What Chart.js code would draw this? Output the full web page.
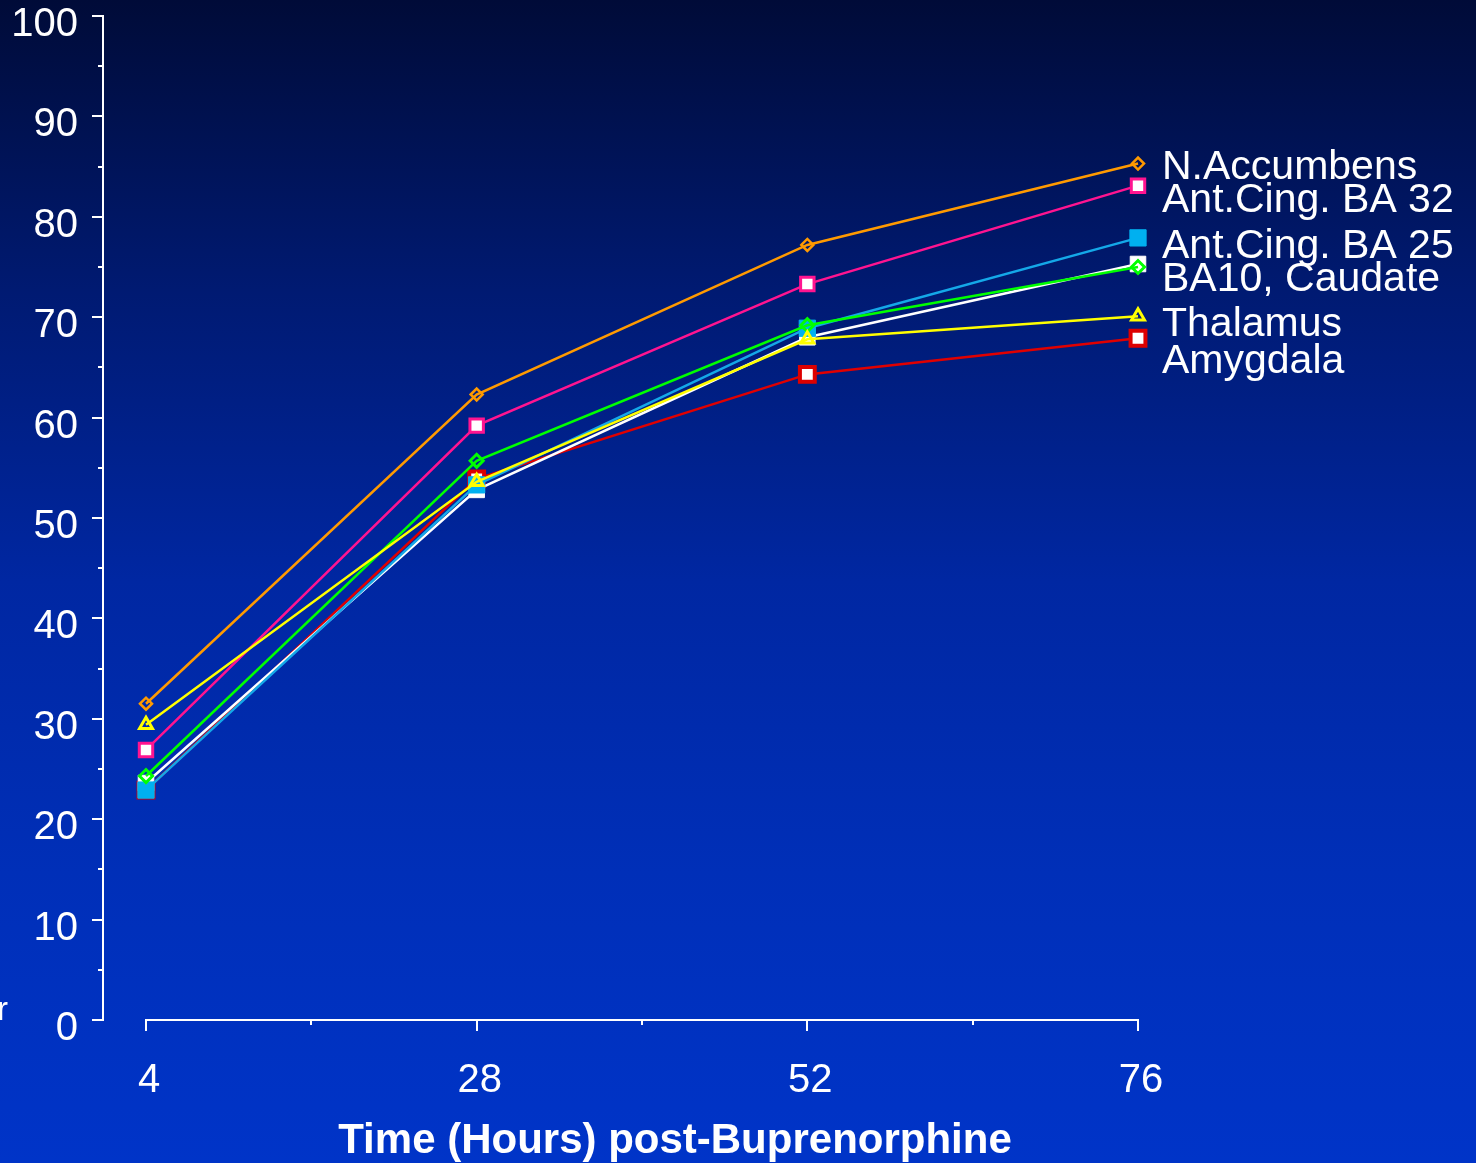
<!DOCTYPE html>
<html>
<head>
<meta charset="utf-8">
<style>
  html, body { margin: 0; padding: 0; overflow: hidden; }
  body { width: 1476px; height: 1163px;
         background: linear-gradient(to bottom, #000b38 0%, #001a72 25%, #0027a2 50%, #002fb8 75%, #0034c8 100%); }
  #wrap { position: relative; width: 1476px; height: 1163px; }
  canvas { display: block; }
</style>
<script src="https://cdn.jsdelivr.net/npm/chart.js@4"></script>
</head>
<body>
<div id="wrap"><canvas id="c" width="1476" height="1163"></canvas></div>
<script>
// Hours after the buprenorphine dose
const hours = [4, 28, 52, 76];
const yTicks = [0, 10, 20, 30, 40, 50, 60, 70, 80, 90, 100];

// Receptor occupancy by region (%)
const nAccumbens = [31.5, 62.3, 77.2, 85.3];
const antCingBA32 = [26.9, 59.2, 73.3, 83.1];
const antCingBA25 = [22.9, 53.3, 68.9, 77.9];
const ba10 = [23.6, 52.8, 68.0, 75.3];
const caudate = [24.3, 55.7, 69.2, 75.0];
const thalamus = [29.4, 53.6, 67.8, 70.1];
const amygdala = [22.9, 53.9, 64.3, 67.9];

const labelNames = ['N.Accumbens', 'Ant.Cing. BA 32', 'Ant.Cing. BA 25', 'BA10, Caudate', 'Thalamus', 'Amygdala'];
const labelRows = [168, 201, 247, 280, 325, 362];
const xTitle = 'Time (Hours) post-Buprenorphine';

const FONT = '"Liberation Sans", Arial, sans-serif';

function series(label, values, color, style) {
  return Object.assign({
    label,
    data: hours.map((h, i) => ({ x: h, y: values[i] })),
    borderColor: color,
    borderWidth: 2.5,
    tension: 0,
    clip: false,
    pointBorderColor: color,
    pointHoverRadius: 0
  }, style);
}

// First dataset is drawn on top
const datasets = [
  series('N.Accumbens', nAccumbens, '#ff9a00',
    { pointStyle: 'rectRot', pointRadius: 6, pointBorderWidth: 2.5, pointBackgroundColor: 'rgba(0,0,0,0)' }),
  series('Thalamus', thalamus, '#ffff00',
    { pointStyle: 'triangle', pointRadius: 7.5, pointBorderWidth: 3, pointBackgroundColor: 'rgba(0,0,0,0)' }),
  series('Ant.Cing. BA 32', antCingBA32, '#ff1490',
    { pointStyle: 'rect', pointRadius: 9.5, pointBorderWidth: 3, pointBackgroundColor: '#ffffff' }),
  series('Caudate', caudate, '#00ff00',
    { pointStyle: 'rectRot', pointRadius: 6.5, pointBorderWidth: 3, pointBackgroundColor: 'rgba(0,0,0,0)' }),
  series('Ant.Cing. BA 25', antCingBA25, '#14a8e8',
    { pointStyle: 'rect', pointRadius: 11.5, pointBorderWidth: 1, pointBorderColor: '#00b0f0', pointBackgroundColor: '#00b0f0' }),
  series('BA10', ba10, '#ffffff',
    { pointStyle: 'rect', pointRadius: 11, pointBorderWidth: 1, pointBackgroundColor: '#ffffff' }),
  series('Amygdala', amygdala, '#e00000',
    { pointStyle: 'rect', pointRadius: 10.5, pointBorderWidth: 4, pointBorderColor: '#dd0000', pointBackgroundColor: '#ffffff' })
];

// Axis lines, tick marks, axis title, end labels and stray corner glyph
const decorations = {
  id: 'decorations',
  beforeDatasetsDraw(chart) {
    const { ctx, scales: { x, y } } = chart;
    const x0 = chart.chartArea.left;
    const yb = y.getPixelForValue(0);
    ctx.save();
    ctx.strokeStyle = '#ffffff';
    ctx.lineWidth = 2;
    ctx.lineCap = 'butt';
    // y axis
    ctx.beginPath();
    ctx.moveTo(x0, y.getPixelForValue(100) - 1);
    ctx.lineTo(x0, yb + 1);
    ctx.stroke();
    for (let v = 0; v <= 100; v += 5) {
      const py = Math.round(y.getPixelForValue(v));
      const len = v % 10 === 0 ? 11 : 5;
      ctx.beginPath();
      ctx.moveTo(x0 - len, py);
      ctx.lineTo(x0, py);
      ctx.stroke();
    }
    // x axis spans first to last sample time
    const xs = x.getPixelForValue(hours[0]);
    const xe = x.getPixelForValue(hours[hours.length - 1]);
    ctx.beginPath();
    ctx.moveTo(xs - 1, yb);
    ctx.lineTo(xe + 1, yb);
    ctx.stroke();
    for (let v = hours[0]; v <= hours[hours.length - 1]; v += 12) {
      const px = Math.round(x.getPixelForValue(v));
      const len = (v - hours[0]) % 24 === 0 ? 11 : 5;
      ctx.beginPath();
      ctx.moveTo(px, yb);
      ctx.lineTo(px, yb + len);
      ctx.stroke();
    }
    ctx.restore();
  },
  afterDraw(chart) {
    const { ctx } = chart;
    const lx = chart.scales.x.getPixelForValue(hours[hours.length - 1]) + 24;
    ctx.save();
    ctx.fillStyle = '#ffffff';
    ctx.font = '41px ' + FONT;
    ctx.textAlign = 'left';
    ctx.textBaseline = 'middle';
    labelNames.forEach((t, i) => ctx.fillText(t, lx, labelRows[i]));
    ctx.font = 'bold 42px ' + FONT;
    ctx.textAlign = 'center';
    ctx.fillText(xTitle, 675, 1141);
    ctx.font = '33px ' + FONT;
    ctx.textAlign = 'left';
    ctx.textBaseline = 'alphabetic';
    ctx.fillText('r', -3, 1020);
    ctx.restore();
  }
};

new Chart(document.getElementById('c'), {
  type: 'line',
  data: { datasets },
  options: {
    responsive: false,
    animation: false,
    events: [],
    layout: { padding: { top: 16, right: 338, bottom: 0, left: 0 } },
    plugins: { legend: { display: false }, tooltip: { enabled: false } },
    scales: {
      x: {
        type: 'linear',
        min: 0.879,
        max: 76,
        grid: { display: false, drawTicks: false },
        border: { display: false },
        afterBuildTicks: s => { s.ticks = hours.map(v => ({ value: v })); },
        afterFit: s => { s.height = 143; s.paddingLeft = 0; s.paddingRight = 0; },
        ticks: {
          color: '#ffffff',
          padding: 37,
          labelOffset: 3,
          maxRotation: 0,
          autoSkip: false,
          font: { family: FONT, size: 40 }
        }
      },
      y: {
        type: 'linear',
        min: 0,
        max: 100,
        grid: { display: false, drawTicks: false },
        border: { display: false },
        afterBuildTicks: s => { s.ticks = yTicks.map(v => ({ value: v })); },
        afterFit: s => { s.width = 103; s.paddingTop = 0; s.paddingBottom = 0; },
        ticks: {
          color: '#ffffff',
          padding: 25,
          labelOffset: 9,
          font: { family: FONT, size: 40, lineHeight: 0.8 }
        }
      }
    }
  },
  plugins: [decorations]
});
</script>
</body>
</html>
